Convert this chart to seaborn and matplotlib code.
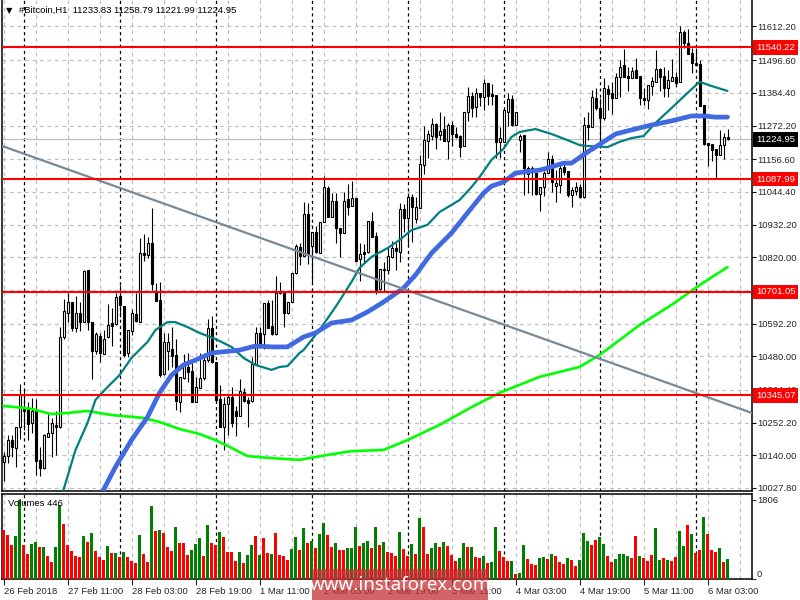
import numpy as np
import pandas as pd
import seaborn as sns
import matplotlib
matplotlib.use("Agg")
import matplotlib.pyplot as plt
from matplotlib.patches import Rectangle

# hourly candles
opens = [10117,10137,10192,10165,10237,10302,10299,10251,10292,10124,
 10096,10202,10216,10244,10237,10546,10628,10666,10577,10628,
 10597,10776,10597,10498,10549,10488,10546,10594,10591,10687,
 10652,10491,10567,10625,10597,10834,10827,10869,10700,10673,
 10419,10498,10505,10484,10323,10405,10443,10429,10323,10371,
 10405,10467,10577,10460,10333,10237,10316,10340,10292,10275,
 10357,10330,10326,10453,10560,10556,10663,10584,10556,10700,
 10697,10628,10666,10766,10855,10824,10968,10858,10907,10834,
 10941,11058,10958,11013,10920,10903,11020,10996,11023,10814,
 10838,10838,10944,10893,10711,10779,10776,10821,10851,10838,
 10985,10955,11027,10951,10989,11137,11219,11236,11277,11240,
 11260,11219,11274,11243,11236,11202,11319,11374,11336,11384,
 11370,11418,11380,11377,11216,11216,11319,11363,11274,11222,
 11240,11106,11126,11109,11037,11061,11109,11157,11064,11068,
 11130,11116,11034,11047,11061,11027,11274,11267,11367,11332,
 11298,11398,11384,11367,11439,11480,11442,11435,11463,11442,
 11367,11360,11408,11422,11466,11442,11401,11425,11439,11422,
 11593,11555,11521,11487,11483,11343,11212,11209,11192,11171,
 11205,11233.83]
highs = [10151,10209,10209,10237,10385,10364,10323,10336,10333,10168,
 10213,10282,10268,10292,10580,10676,10697,10666,10687,10666,
 10776,10776,10597,10563,10560,10570,10659,10645,10697,10724,
 10652,10570,10642,10697,10886,10900,10889,10989,10731,10735,
 10560,10560,10580,10539,10409,10488,10491,10457,10409,10491,
 10484,10608,10618,10460,10381,10340,10350,10374,10309,10402,
 10371,10340,10477,10580,10580,10663,10673,10673,10755,10735,
 10697,10666,10766,10865,10869,11010,11006,10907,10927,10941,
 11099,11064,11040,11040,10920,11044,11071,11082,11023,10869,
 10865,10944,10975,10907,10779,10803,10855,10876,10869,11006,
 11003,11040,11037,11027,11171,11270,11257,11298,11281,11319,
 11305,11281,11288,11267,11240,11319,11405,11387,11401,11384,
 11432,11418,11415,11377,11267,11325,11384,11377,11319,11243,
 11240,11133,11133,11109,11061,11116,11181,11171,11119,11143,
 11143,11116,11061,11078,11071,11301,11319,11394,11401,11367,
 11435,11411,11422,11452,11497,11535,11473,11473,11504,11442,
 11401,11411,11439,11531,11470,11473,11463,11501,11456,11614,
 11600,11604,11538,11538,11497,11343,11212,11209,11192,11257,
 11246,11258.79]
lows = [10051,10113,10134,10100,10196,10227,10192,10216,10072,10069,
 10093,10202,10134,10141,10233,10539,10597,10567,10563,10567,
 10597,10570,10402,10488,10460,10488,10542,10515,10587,10615,
 10477,10477,10553,10597,10597,10807,10817,10707,10670,10409,
 10415,10433,10443,10295,10288,10402,10391,10323,10323,10371,
 10398,10460,10457,10326,10237,10158,10209,10237,10206,10275,
 10323,10237,10323,10450,10518,10505,10577,10553,10553,10694,
 10580,10625,10666,10762,10793,10824,10797,10735,10834,10834,
 10941,10958,10958,10869,10821,10903,10965,10996,10803,10738,
 10800,10834,10889,10694,10707,10700,10762,10817,10776,10803,
 10907,10858,10872,10937,10989,11106,11161,11222,11192,11222,
 11219,11157,11202,11229,11164,11202,11288,11301,11301,11339,
 11325,11343,11343,11161,11161,11216,11270,11270,11274,11181,
 11034,11040,11034,11034,10979,11030,11109,11044,11010,11040,
 11102,11027,10992,11034,11023,11023,11222,11267,11325,11195,
 11291,11325,11312,11367,11370,11439,11391,11435,11435,11343,
 11343,11329,11377,11422,11391,11370,11370,11425,11405,11422,
 11538,11518,11452,11480,11339,11205,11133,11150,11092,11171,
 11157,11221.99]
closes = [10137,10192,10168,10237,10347,10292,10247,10292,10120,10096,
 10209,10216,10251,10237,10546,10635,10666,10577,10628,10597,
 10773,10597,10498,10556,10491,10539,10587,10584,10683,10656,
 10484,10570,10628,10601,10834,10827,10869,10728,10670,10415,
 10529,10529,10480,10326,10409,10457,10426,10323,10374,10405,
 10467,10577,10460,10330,10237,10316,10340,10251,10275,10360,
 10326,10319,10453,10560,10525,10663,10577,10556,10697,10697,
 10628,10666,10766,10858,10824,10968,10827,10907,10838,10941,
 11061,10958,11013,10920,10903,11013,10992,11023,10807,10831,
 10831,10944,10889,10707,10779,10776,10824,10851,10841,10985,
 10955,11027,10992,10992,11140,11222,11243,11277,11233,11253,
 11219,11274,11243,11233,11198,11319,11374,11332,11384,11370,
 11418,11374,11374,11216,11229,11325,11363,11274,11319,11236,
 11126,11126,11112,11037,11061,11109,11157,11078,11075,11126,
 11112,11034,11051,11061,11027,11274,11267,11370,11332,11298,
 11401,11380,11367,11439,11473,11439,11435,11459,11435,11367,
 11360,11411,11425,11466,11439,11401,11428,11439,11418,11593,
 11555,11518,11487,11480,11339,11209,11205,11188,11171,11205,
 11233,11224.95]

volumes = [1116,1009,782,987,1806,782,577,805,850,736,
 736,531,395,736,1693,1260,782,645,531,509,
 987,850,1055,645,509,440,759,600,600,509,
 622,509,417,372,1009,577,395,1670,1101,1123,
 1055,736,645,1192,827,827,554,668,805,941,
 531,1237,827,782,1078,964,622,622,417,622,
 372,554,782,987,554,941,600,577,1055,554,
 531,440,691,964,668,1169,827,873,713,1032,
 1283,1009,736,827,668,668,713,713,1192,759,
 827,873,713,1192,782,850,622,600,531,1078,
 691,531,805,577,1397,1192,577,713,827,736,
 850,759,554,417,486,827,736,736,509,486,
 531,372,395,1192,645,509,417,417,121,144,
 782,463,349,326,486,509,463,577,531,395,
 349,486,440,304,440,1055,873,782,896,964,
 805,531,395,463,577,577,531,486,987,531,
 486,417,554,1169,440,486,440,417,509,1101,
 759,1237,1032,600,668,1419,1032,668,622,713,
 395,446]
volume_dirs = ("rrrggrrggr" "grrggrrrrr" "grgrrrgrgr" "grrrgrrgrg" "rrrgrrrggg"
               "rgrrgrrrrg" "rggrgrrgrr" "rrggrgrgrg" "grrgrrgggr" "ggrgrgrrrg"
               "rrgrgrrggr" "grrrggrgrr" "grggrrrgrg" "grrrggrgrr" "rgrrgggrrg"
               "grrggggrrg" "rrrggrgrrg" "grgrrgrrrg" "rg")

ma_fast_bars = [16,19,22,24,27,30,33,37,39,42,44,47,50,54,58,61,64,68,70,72,75,76,80,84,88,90,93,97,
                100,103,107,110,115,118,120,123,126,128,130,134,138,142,145,147,152,155,158,161,164,
                168,172,175,178,182]
ma_fast = [10021,10158,10251,10330,10374,10415,10474,10529,10570,10597,10597,10580,10560,10539,10512,
           10474,10450,10433,10443,10446,10491,10501,10570,10649,10735,10783,10821,10851,10879,10913,
           10931,10975,11016,11061,11095,11154,11192,11233,11250,11260,11243,11222,11205,11202,11198,
           11216,11229,11236,11281,11332,11384,11422,11408,11391]
ma_mid_bars = [26,29,33,37,40,43,46,49,53,60,64,68,72,76,79,83,88,92,96,101,104,108,113,117,121,123,126,
               129,135,137,141,143,147,151,154,158,163,168,173,176,179,182]
ma_mid = [10021,10100,10192,10271,10354,10415,10450,10467,10491,10501,10515,10512,10512,10546,10560,
          10594,10604,10632,10666,10714,10759,10834,10903,10972,11040,11064,11078,11109,11119,11126,11143,
          11143,11181,11216,11243,11257,11274,11288,11305,11305,11301,11301]
ma_slow_bars = [1,5,8,13,17,22,28,36,40,45,50,54,58,62,68,75,82,88,96,102,110,118,125,135,145,150,160,168,175,182]
ma_slow = [10309,10304,10299,10281,10285,10292,10278,10268,10254,10230,10213,10192,10165,10137,10130,
           10124,10141,10154,10158,10192,10244,10305,10354,10409,10443,10484,10587,10656,10724,10786]

trend_bars = [0.625, 188.125]
trend_prices = [11202, 10285]

levels = [11540.22, 11087.99, 10701.05, 10345.07]
last_price = 11224.95
price_ticks = [11612.20, 11496.60, 11384.40, 11272.20, 11156.60, 11044.40, 10932.20, 10820.00,
               10707.80, 10592.20, 10480.00, 10364.40, 10252.20, 10140.00, 10027.80]
date_labels = ["26 Feb 2018", "27 Feb 11:00", "28 Feb 03:00", "28 Feb 19:00", "1 Mar 11:00", "2 Mar 03:00",
               "2 Mar 19:00", "3 Mar 11:00", "4 Mar 03:00", "4 Mar 19:00", "5 Mar 11:00", "6 Mar 03:00"]

sns.set_style("white")
plt.rcParams['font.family'] = ['Liberation Sans', 'DejaVu Sans']
FS = 6.8

fig = plt.figure(figsize=(8, 6), dpi=100)
ax = fig.add_axes([2/800, 1 - 491/600, 750/800, 491/600])
vol_ax = fig.add_axes([2/800, 1 - 579/600, 750/800, 85/600])

bars = np.arange(1, len(opens) + 1)
df = pd.DataFrame({"bar": bars, "open": opens, "high": highs, "low": lows, "close": closes,
                   "volume": volumes, "dir": list(volume_dirs)})
up = df[df.close >= df.open]
down = df[df.close < df.open]

# grid first so the candles sit on top
grid_bars = np.arange(1, 189, 8)
day_bars = np.arange(6, 189, 24)
for a in (ax, vol_ax):
    a.set_xlim(0.625, 188.125)
    for b in grid_bars:
        a.axvline(b, color="#c0c0c0", lw=0.9, ls=(0, (3, 3)), zorder=0)
    for b in day_bars:
        a.axvline(b, color="black", lw=0.9, ls=(0, (2.5, 2.5)), zorder=0.5)
for p in price_ticks:
    ax.axhline(p, color="#c0c0c0", lw=0.9, ls=(0, (3, 3)), zorder=0)
ax.axhline(last_price, color="#c0c0c0", lw=0.9, zorder=0.6)

ax.vlines(df.bar, df.low, df.high, color="black", lw=0.8, zorder=2)
ax.bar(up.bar, up.close - up.open, bottom=up.open, width=0.5, facecolor="white", edgecolor="black", lw=0.8, zorder=3)
ax.bar(down.bar, down.open - down.close, bottom=down.close, width=0.5, facecolor="black", edgecolor="black", lw=0.8, zorder=3)

sns.lineplot(x=ma_slow_bars, y=ma_slow, color="#00ff00", lw=1.9, ax=ax, zorder=4)
sns.lineplot(x=ma_fast_bars, y=ma_fast, color="#008080", lw=1.6, ax=ax, zorder=4)
sns.lineplot(x=ma_mid_bars, y=ma_mid, color="#4169e1", lw=3.4, ax=ax, zorder=5)
sns.lineplot(x=trend_bars, y=trend_prices, color="#778899", lw=1.6, ax=ax, zorder=5)
for lv in levels:
    ax.axhline(lv, color="#ff0000", lw=1.5, zorder=6)

ax.set_xlim(0.625, 188.125)
ax.set_ylim(10017.1, 11703.2)
ax.set_xticks([])
ax.yaxis.tick_right()
ax.set_yticks(price_ticks)
ax.set_yticklabels([f"{p:.2f}" for p in price_ticks], fontsize=FS)
ax.tick_params(axis="y", right=True, length=3, width=0.8, pad=0.5, color="black")
ax.set_xlabel("")
ax.set_ylabel("")

for lv in levels:
    ax.text(1.0055, lv, f"{lv:.2f}", transform=ax.get_yaxis_transform(), color="white", fontsize=FS,
            va="center", ha="left", clip_on=False, zorder=8,
            bbox=dict(facecolor="#ff0000", edgecolor="none", pad=2.0))
ax.text(1.0055, last_price, f"{last_price:.2f}", transform=ax.get_yaxis_transform(), color="white", fontsize=FS,
        va="center", ha="left", clip_on=False, zorder=8,
        bbox=dict(facecolor="black", edgecolor="none", pad=2.0))

for s in ["left", "bottom", "right"]:
    ax.spines[s].set_color("black")
    ax.spines[s].set_linewidth(1.1)
ax.spines["top"].set_visible(False)

# volume pane
sns.barplot(data=df, x="bar", y="volume", hue="dir", palette={"r": "#ff0000", "g": "#008000"},
            native_scale=True, dodge=False, legend=False, ax=vol_ax, zorder=3, saturation=1)
# seaborn leaves hue bars thin here, force them back to 3px
for patch in vol_ax.patches:
    mid = patch.get_x() + patch.get_width() / 2
    patch.set_width(0.78)
    patch.set_x(mid - 0.39)
    patch.set_linewidth(0)
vol_ax.set_xlim(0.625, 188.125)
vol_ax.set_ylim(0, 1935)
vol_ax.set_xlabel("")
vol_ax.set_ylabel("")
vol_ax.yaxis.tick_right()
vol_ax.set_yticks([1806, 0])
vol_labels = vol_ax.set_yticklabels(["1806", "0"], fontsize=FS)
vol_labels[1].set_va("bottom")
vol_ax.tick_params(axis="y", right=True, length=3, width=0.8, pad=0.5)
date_bars = np.arange(1, 189, 16)[:len(date_labels)]
vol_ax.set_xticks(date_bars)
x_labels = vol_ax.set_xticklabels(date_labels, fontsize=FS, ha="left")
vol_ax.tick_params(axis="x", bottom=True, length=4, width=0.8, pad=1.5)
for s in vol_ax.spines.values():
    s.set_color("black")
    s.set_linewidth(1.1)

fig.text(19/800, 1 - 10/600, "#Bitcoin,H1  11233.83 11258.79 11221.99 11224.95", fontsize=FS, va="center", ha="left", color="black")
fig.text(9/800, 1 - 10.5/600, "\u25BC", fontsize=6, va="center", ha="center", color="black", family=["DejaVu Sans"])
fig.text(8/800, 1 - 503/600, "Volumes 446", fontsize=FS, va="center", ha="left", color="black", zorder=10)

# watermark band over the date axis
fig.add_artist(Rectangle((312/800, 0), 176/800, 31/600, transform=fig.transFigure,
                         facecolor="#c62f35", edgecolor="none", alpha=0.75, zorder=20))
fig.text(400/800, 1 - 585/600, "www.instaforex.com", fontsize=13.5, va="center", ha="center", color="white", zorder=21,
         family=["Noto Sans"])

fig.savefig("out.png", dpi=100)
